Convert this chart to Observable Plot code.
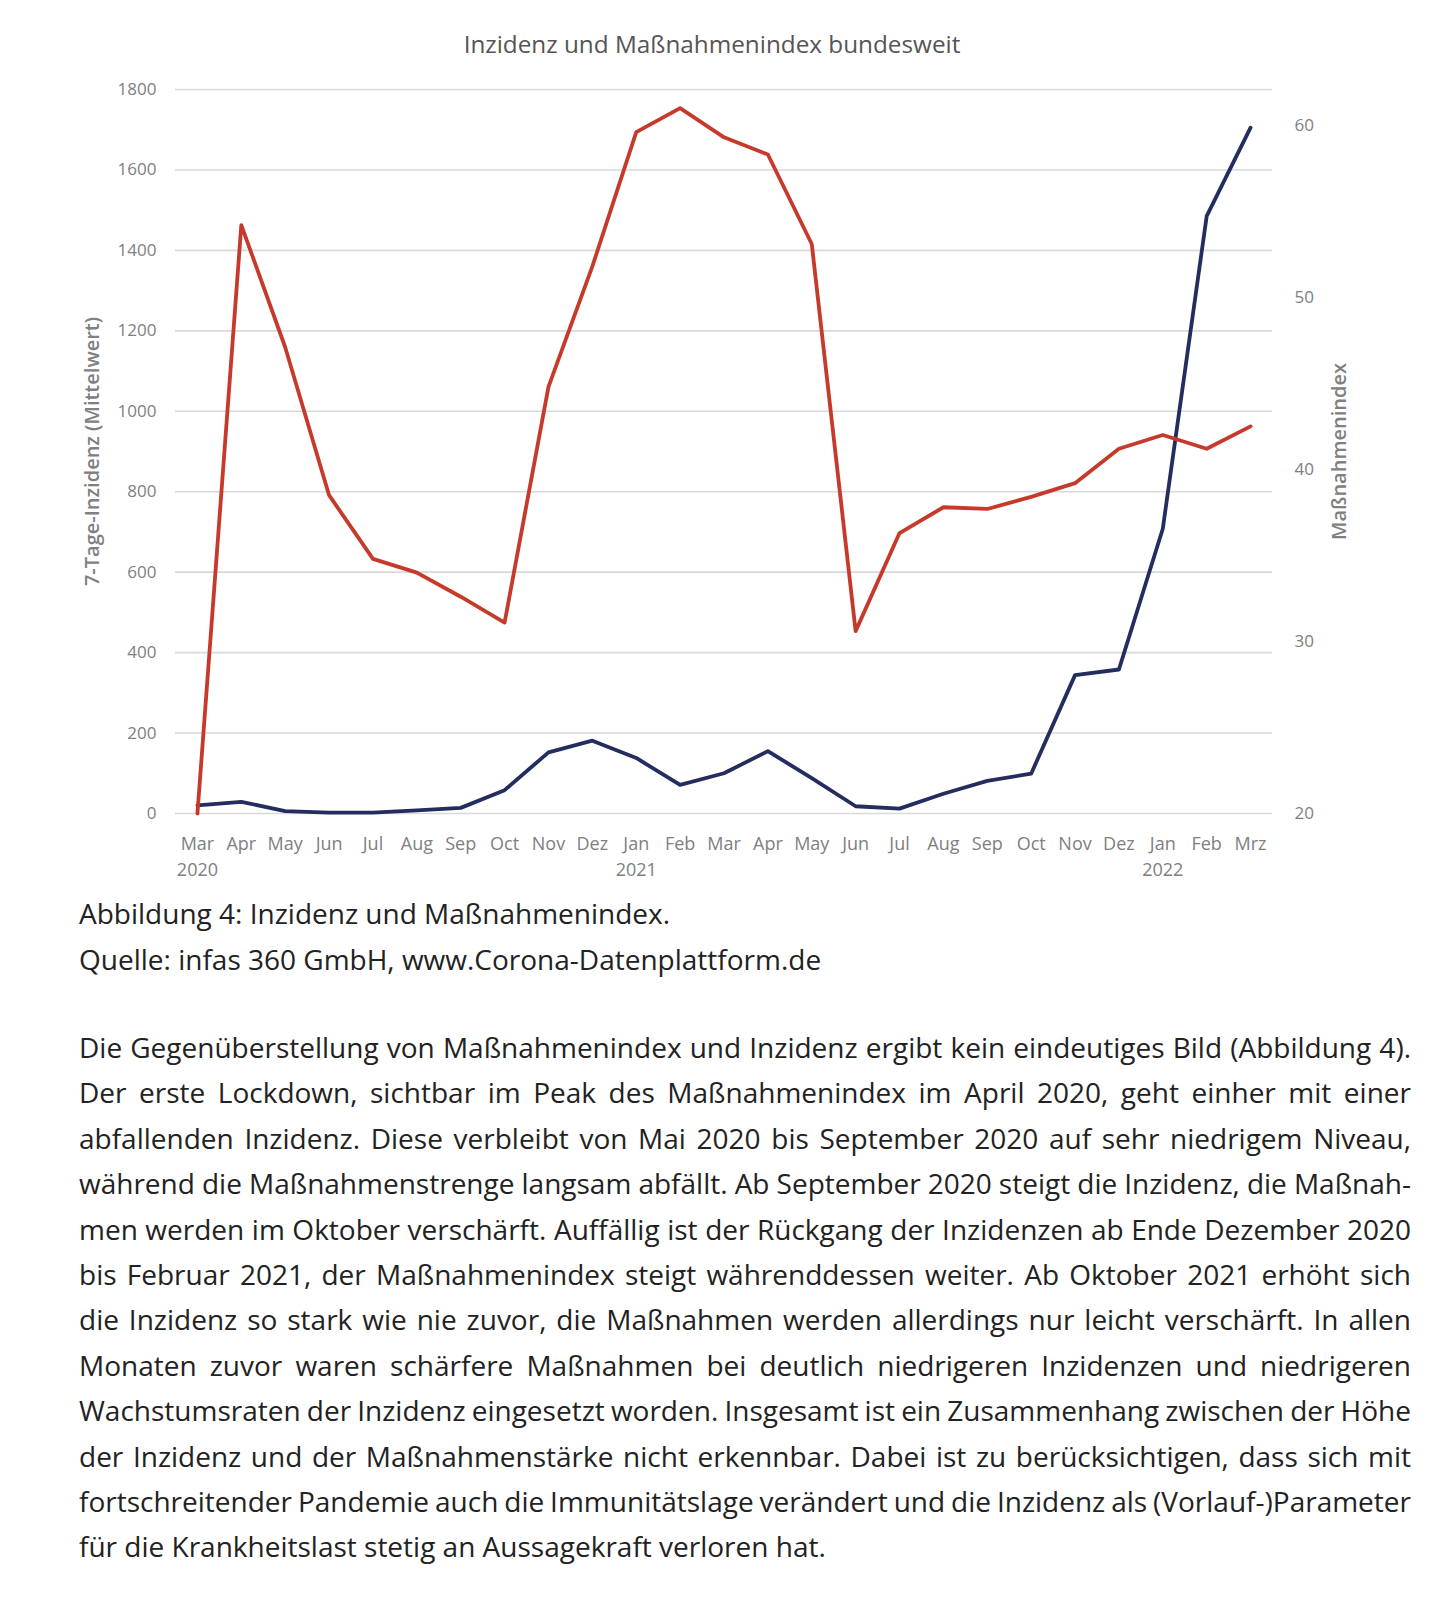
<!DOCTYPE html>
<html lang="de">
<head>
<meta charset="utf-8">
<script src="https://cdn.jsdelivr.net/npm/d3@7"></script>
<script src="https://cdn.jsdelivr.net/npm/@observablehq/plot@0.6"></script>
<style>
  html, body { margin: 0; padding: 0; background: #fff; }
  #page { position: relative; width: 1456px; height: 1600px; overflow: hidden; }
  #title { position: absolute; left: 0; top: 28px; width: 1424px; text-align: center;
           font-family: "Open Sans", sans-serif; font-size: 24.3px; line-height: 32px; color: #555; }
  #chart { position: absolute; left: 0; top: 0; }
  .txt { position: absolute; left: 79px; width: 1332px; color: #222;
         font-family: "Open Sans", sans-serif; font-size: 28px; }
  #caption { top: 890px; line-height: 46px; }
  #body { top: 1025px; line-height: 45.4px; }
  .jl { text-align: justify; text-align-last: justify; white-space: nowrap; word-spacing: -3px; }
  .ll { text-align: left; white-space: nowrap; }
</style>
</head>
<body>
<div id="page">
  <div id="chart"></div>
  <div id="title">Inzidenz und Maßnahmenindex bundesweit</div>
  <div id="caption" class="txt"></div>
  <div id="body" class="txt"></div>
</div>
<script>
// ---- data ----
const monthKeys = ["2020-03","2020-04","2020-05","2020-06","2020-07","2020-08","2020-09","2020-10","2020-11","2020-12",
  "2021-01","2021-02","2021-03","2021-04","2021-05","2021-06","2021-07","2021-08","2021-09","2021-10","2021-11","2021-12",
  "2022-01","2022-02","2022-03"];
const monthLabels = ["Mar","Apr","May","Jun","Jul","Aug","Sep","Oct","Nov","Dez",
  "Jan","Feb","Mar","Apr","May","Jun","Jul","Aug","Sep","Oct","Nov","Dez",
  "Jan","Feb","Mrz"];
const yearLabels = ["2020","","","","","","","","","",
  "2021","","","","","","","","","","","",
  "2022","",""];
// 7-Tage-Inzidenz (Mittelwert), left axis
const inzidenz = [20,29,6,2,2,8,14,58,152,181,138,71,100,155,88,18,12,49,81,99,344,358,708,1485,1705];
// Maßnahmenindex, right axis
const massnahmenindex = [20.0,54.2,47.1,38.5,34.8,34.0,32.6,31.1,44.8,51.8,59.6,61.0,59.3,58.3,53.1,30.6,36.3,37.8,37.7,38.4,39.2,41.2,42.0,41.2,42.5];
const leftTicks = [0,200,400,600,800,1000,1200,1400,1600,1800];
const rightTicks = [20,30,40,50,60];
const leftDomain = [0,1800];
const rightDomain = [20,62.08];

const captionLines = [
  "Abbildung 4: Inzidenz und Maßnahmenindex.",
  "Quelle: infas 360 GmbH, www.Corona-Datenplattform.de"
];
const bodyLines = [
  "Die Gegenüberstellung von Maßnahmenindex und Inzidenz ergibt kein eindeutiges Bild (Abbildung 4).",
  "Der erste Lockdown, sichtbar im Peak des Maßnahmenindex im April 2020, geht einher mit einer",
  "abfallenden Inzidenz. Diese verbleibt von Mai 2020 bis September 2020 auf sehr niedrigem Niveau,",
  "während die Maßnahmenstrenge langsam abfällt. Ab September 2020 steigt die Inzidenz, die Maßnah-",
  "men werden im Oktober verschärft. Auffällig ist der Rückgang der Inzidenzen ab Ende Dezember 2020",
  "bis Februar 2021, der Maßnahmenindex steigt währenddessen weiter. Ab Oktober 2021 erhöht sich",
  "die Inzidenz so stark wie nie zuvor, die Maßnahmen werden allerdings nur leicht verschärft. In allen",
  "Monaten zuvor waren schärfere Maßnahmen bei deutlich niedrigeren Inzidenzen und niedrigeren",
  "Wachstumsraten der Inzidenz eingesetzt worden. Insgesamt ist ein Zusammenhang zwischen der Höhe",
  "der Inzidenz und der Maßnahmenstärke nicht erkennbar. Dabei ist zu berücksichtigen, dass sich mit",
  "fortschreitender Pandemie auch die Immunitätslage verändert und die Inzidenz als (Vorlauf-)Parameter",
  "für die Krankheitslast stetig an Aussagekraft verloren hat."
];

// ---- build ----
const data = monthKeys.map((k, i) => ({key: k, inzidenz: inzidenz[i], index: massnahmenindex[i]}));
const rightToLeft = d3.scaleLinear(rightDomain, leftDomain);

const RED = "#c63a2c";
const NAVY = "#232d5e";
const TICK = "#808080";
const font = "Open Sans, sans-serif";

const chart = Plot.plot({
  width: 1456,
  height: 890,
  marginTop: 89,
  marginBottom: 77,
  marginLeft: 175,
  marginRight: 184,
  style: {fontFamily: font, fontSize: "17px", color: TICK, background: "transparent"},
  x: {type: "point", domain: monthKeys, padding: 0.5, round: false},
  y: {domain: leftDomain},
  marks: [
    Plot.gridY(leftTicks, {stroke: "#d9d9d9", strokeOpacity: 1, strokeWidth: 1.6}),
    Plot.axisY(leftTicks, {anchor: "left", tickSize: 0, tickPadding: 19, label: null, fill: TICK, fontSize: 17,
      tickFormat: d => String(d)}),
    Plot.axisY(rightTicks.map(rightToLeft), {anchor: "right", tickSize: 0, tickPadding: 22, label: null, fill: TICK, fontSize: 17,
      tickFormat: d => String(Math.round(rightToLeft.invert(d)))}),
    Plot.axisX({tickSize: 0, tickPadding: 19, label: null, fill: TICK, fontSize: 18, lineHeight: 1.4,
      tickFormat: d => { const i = monthKeys.indexOf(d); return yearLabels[i] ? monthLabels[i] + "\n" + yearLabels[i] : monthLabels[i]; }}),
    Plot.text(["7-Tage-Inzidenz (Mittelwert)"], {frameAnchor: "left", dx: -83, rotate: -90, textAnchor: "middle", lineAnchor: "middle", fill: TICK, fontSize: 20, fontWeight: 600}),
    Plot.text(["Maßnahmenindex"], {frameAnchor: "right", dx: 67, rotate: -90, textAnchor: "middle", lineAnchor: "middle", fill: TICK, fontSize: 20, fontWeight: 600}),
    Plot.lineY(data, {x: "key", y: "inzidenz", stroke: NAVY, strokeWidth: 3.8}),
    Plot.lineY(data, {x: "key", y: d => rightToLeft(d.index), stroke: RED, strokeWidth: 3.8})
  ]
});
document.getElementById("chart").appendChild(chart);

const cap = document.getElementById("caption");
captionLines.forEach(t => { const d = document.createElement("div"); d.className = "ll"; d.textContent = t; cap.appendChild(d); });
const body = document.getElementById("body");
bodyLines.forEach((t, i) => { const d = document.createElement("div"); d.className = i === bodyLines.length - 1 ? "ll" : "jl"; d.textContent = t; body.appendChild(d); });
</script>
</body>
</html>
